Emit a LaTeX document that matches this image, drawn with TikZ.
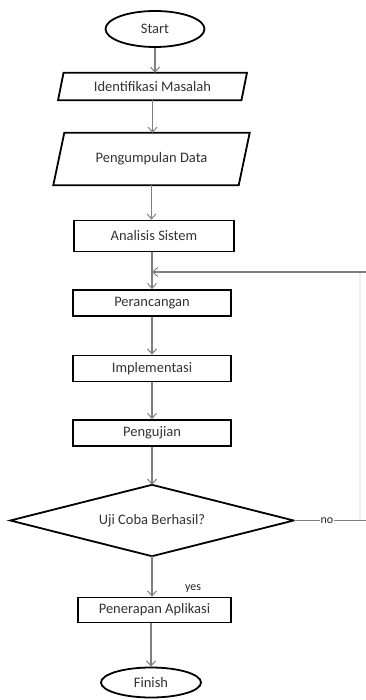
\documentclass[tikz,border=0pt]{standalone}
\usepackage{fontspec}
\setmainfont{Carlito}
\usetikzlibrary{shapes.geometric,arrows.meta,calc}
\tikzset{
  shapeline/.style={draw=black,line width=1.8pt},
  txt/.style={font=\fontsize{14.5}{16}\selectfont,inner sep=0pt,text=black!80},
  conn/.style={draw=black!50,line width=1.5pt},
  arr/.style={conn,-{Straight Barb[length=5pt,width=9pt,line width=1pt]}},
  faint/.style={draw=black!6,line width=1.4pt},
  lbl/.style={font=\fontsize{12}{14}\selectfont,inner sep=0pt,text=black!85}
}
\begin{document}
\begin{tikzpicture}[x=1pt,y=-1pt]
\useasboundingbox[fill=white] (0,0) rectangle (366,700);
% Start
\node[ellipse,shapeline,txt,minimum width=99pt,minimum height=36pt] (start) at (155,29) {Start};
% Identifikasi Masalah
\node[txt,minimum width=183pt,minimum height=27pt] (idm) at (152.5,86.5) {Identifikasi Masalah};
\draw[shapeline] ($(idm.south west)+(-2.75,0)$) -- ($(idm.north west)+(2.75,0)$) -- ($(idm.north east)+(2.75,0)$) -- ($(idm.south east)+(-2.75,0)$) -- cycle;
% Pengumpulan Data
\node[txt,minimum width=185pt,minimum height=52pt] (pd) at (151.5,159) {Pengumpulan Data};
\draw[shapeline] ($(pd.south west)+(-5.5,0)$) -- ($(pd.north west)+(5.5,0)$) -- ($(pd.north east)+(5.5,0)$) -- ($(pd.south east)+(-5.5,0)$) -- cycle;
% rectangles
\node[rectangle,shapeline,txt,minimum width=160pt,minimum height=31pt] (as) at (154,236) {Analisis Sistem};
\node[rectangle,shapeline,txt,minimum width=158pt,minimum height=26pt] (per) at (152,303) {Perancangan};
\node[rectangle,shapeline,txt,minimum width=158pt,minimum height=26pt] (imp) at (152,368.5) {Implementasi};
\node[rectangle,shapeline,txt,minimum width=158pt,minimum height=26pt] (uji) at (152,433) {Pengujian};
% decision
\node[txt,minimum width=283pt,minimum height=71pt] (dec) at (152,520.5) {Uji Coba Berhasil?};
\draw[shapeline] (dec.west) -- (dec.north) -- (dec.east) -- (dec.south) -- cycle;
\node[rectangle,shapeline,txt,minimum width=153pt,minimum height=25pt] (pen) at (154.5,610) {Penerapan Aplikasi};
\node[ellipse,shapeline,txt,minimum width=100pt,minimum height=30pt] (fin) at (151,682.5) {Finish};
% connectors
\draw[arr] (start.south) -- (start.south |- idm.north);
\draw[arr] (idm.south) -- (idm.south |- pd.north);
\draw[arr] (pd.south) -- (pd.south |- as.north);
\coordinate (junc) at (152,272);
\coordinate (rt) at (366,272);
\coordinate (rb) at (366,520.5);
\coordinate (vt) at (360,272);
\coordinate (vb) at (360,520.5);
\draw[faint] (vb) -- (vt);
\draw[arr] (as.south -| junc) -- (per.north);
\draw[conn] (dec.east) -- (rb);
\draw[arr] (rt) -- (junc);
\draw[arr] (per.south) -- (imp.north);
\draw[arr] (imp.south) -- (uji.north);
\draw[arr] (uji.south) -- (dec.north);
\draw[arr] (dec.south) -- (dec.south |- pen.north);
\draw[arr] (pen.south -| fin.north) -- (fin.north);
% labels
\node[lbl,fill=white,inner xsep=1pt] (no) at (327,521) {no};
\node[lbl] (yes) at (193,589) {yes};
\end{tikzpicture}
\end{document}
